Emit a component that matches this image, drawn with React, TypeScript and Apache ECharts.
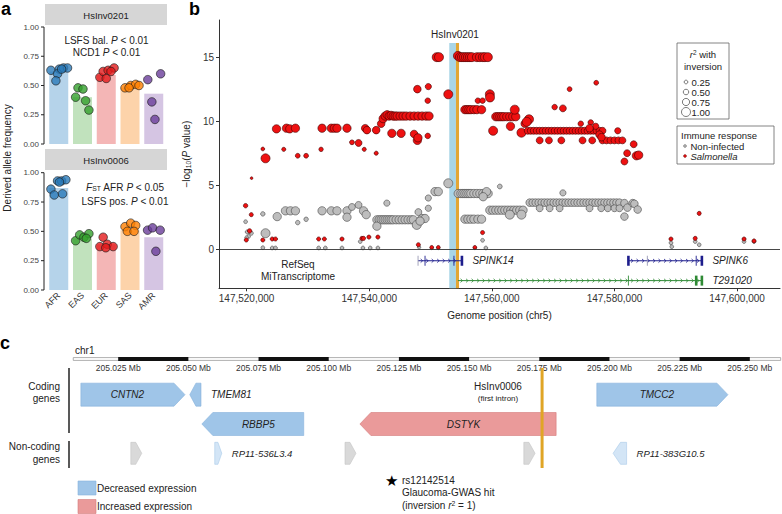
import React, { useEffect, useRef } from 'react';
import * as echarts from 'echarts';

const FONT = '"Liberation Sans", Arial, Helvetica, sans-serif';

// ---------------- Panel a ----------------
const populations = ['AFR', 'EAS', 'EUR', 'SAS', 'AMR'];
const popIndex = [0, 1, 2, 3, 4];
const popColors = ['#2a7ab9', '#33a02c', '#e31a1c', '#ff7f00', '#6a3d9a'];
const popBarColors = ['#b5d3ea', '#c1e2bd', '#f4b6b6', '#fdd3aa', '#d5c5e3'];
const alleleTicks = [0, 0.25, 0.5, 0.75, 1];
const hs0201Means = [0.62, 0.40, 0.59, 0.48, 0.43];
const hs0006Means = [0.87, 0.44, 0.39, 0.51, 0.45];
// [population index, horizontal jitter (category units), derived allele frequency]
const hs0201Points = [
  [0, -0.33, 0.63], [0, 0.02, 0.64], [0, 0.2, 0.65], [0, 0.37, 0.65], [0, -0.05, 0.60], [0, -0.12, 0.54], [0, 0.12, 0.64],
  [1, -0.19, 0.48], [1, 0.02, 0.47], [1, -0.29, 0.40], [1, 0.13, 0.37], [1, 0.27, 0.29],
  [2, -0.27, 0.57], [2, -0.13, 0.62], [2, 0.08, 0.63], [2, 0.33, 0.65], [2, 0.0, 0.56], [2, 0.2, 0.62],
  [3, -0.21, 0.48], [3, 0.03, 0.50], [3, 0.24, 0.51], [3, 0.38, 0.50], [3, -0.04, 0.48],
  [4, -0.25, 0.55], [4, 0.29, 0.60], [4, -0.08, 0.36], [4, 0.05, 0.21],
];
const hs0006Points = [
  [0, -0.33, 0.86], [0, -0.19, 0.81], [0, 0.16, 0.82], [0, -0.05, 0.93], [0, 0.12, 0.93], [0, 0.3, 0.94], [0, 0.03, 0.92],
  [1, -0.29, 0.42], [1, -0.12, 0.47], [1, 0.06, 0.45], [1, 0.27, 0.48], [1, 0.16, 0.44],
  [2, -0.13, 0.45], [2, -0.27, 0.37], [2, 0.04, 0.39], [2, 0.29, 0.37], [2, -0.02, 0.36],
  [3, -0.21, 0.54], [3, 0.03, 0.57], [3, 0.24, 0.55], [3, -0.11, 0.50], [3, 0.17, 0.50],
  [4, -0.26, 0.51], [4, -0.05, 0.53], [4, 0.27, 0.51], [4, 0.09, 0.33],
];

// ---------------- Panel b ----------------
const genomeTicks = [147520000, 147540000, 147560000, 147580000, 147600000];
const logpTicks = [0, 5, 10, 15];
const genomeMin = 147515500;
const genomeMax = 147607000;
const logpMin = -3.05;
const logpMax = 17.9;
// [position, -log10 P, r2 with inversion]
const salmonellaPts = [
  [147522650, 7.83, 0.25], [147523089, 7.1, 1.0], [147524878, 9.4, 0.9], [147526065, 7.8, 0.3],
  [147526504, 9.45, 0.9], [147527040, 9.4, 0.9], [147527967, 9.45, 0.9], [147528341, 7.3, 0.4],
  [147529707, 7.3, 0.4], [147532146, 7.8, 0.35], [147532309, 9.45, 0.9], [147533821, 9.45, 0.9],
  [147534309, 9.45, 0.9], [147534748, 9.45, 0.9], [147536374, 9.45, 0.9], [147537187, 8.35, 0.4],
  [147538260, 8.3, 0.7], [147539187, 7.8, 0.3], [147539349, 9.45, 0.8], [147539626, 9.3, 0.8],
  [147541138, 9.3, 0.8], [147541138, 7.5, 0.3], [147541951, 9.8, 0.8],
  [147542276, 10.2, 0.9], [147542601, 10.4, 0.9], [147542927, 10.5, 0.9], [147543252, 10.4, 0.9],
  [147543577, 10.45, 0.9], [147543902, 10.4, 0.9], [147544227, 10.4, 0.9], [147544553, 10.4, 0.9],
  [147545040, 10.4, 0.9], [147545528, 10.4, 0.9], [147546016, 10.4, 0.9], [147546666, 10.4, 0.9],
  [147547317, 10.4, 0.9], [147547967, 10.4, 0.9], [147548618, 10.4, 0.9], [147549268, 10.4, 0.9],
  [147549756, 10.4, 0.9],
  [147543691, 9.05, 0.9], [147545203, 9.05, 0.9], [147547317, 9.0, 0.8], [147547853, 8.5, 0.9],
  [147547950, 8.7, 0.9], [147547853, 12.5, 0.8], [147549642, 12.7, 0.6], [147549544, 11.6, 0.5],
  [147549544, 8.85, 0.5], [147551008, 15.0, 1.0], [147551382, 15.0, 1.0], [147552894, 12.1, 1.0],
  [147554471, 15.1, 1.0], [147554796, 15.0, 1.0], [147555122, 15.0, 1.0], [147555447, 15.0, 1.0],
  [147555772, 15.0, 1.0], [147556097, 15.0, 1.0], [147556422, 15.0, 1.0], [147556748, 15.0, 1.0],
  [147557561, 15.0, 1.0], [147558048, 15.0, 1.0], [147558536, 15.0, 1.0], [147558861, 15.0, 1.0],
  [147559349, 15.0, 1.0],
  [147555609, 10.9, 0.9], [147555935, 10.9, 0.9], [147556260, 10.9, 0.9], [147556585, 10.9, 0.9],
  [147557073, 10.9, 0.9], [147557561, 10.9, 0.9], [147558325, 10.9, 0.9],
  [147557723, 11.6, 0.5], [147558487, 11.6, 0.5], [147559674, 12.1, 1.0], [147559700, 11.85, 1.0],
  [147560211, 9.25, 1.0],
  [147560650, 10.35, 0.9], [147560975, 10.35, 0.9], [147561300, 10.35, 0.9], [147561626, 10.35, 0.9],
  [147561951, 10.35, 0.9], [147562439, 10.35, 0.9], [147562926, 10.35, 0.9], [147563414, 10.35, 0.9],
  [147563902, 10.35, 0.9],
  [147563739, 10.9, 1.0], [147563040, 9.6, 0.9], [147564829, 9.1, 1.0], [147565365, 9.8, 0.8],
  [147566066, 10.15, 1.0], [147565691, 9.95, 1.0],
  [147565853, 9.25, 0.7], [147566341, 9.25, 0.7], [147566829, 9.25, 0.7], [147567317, 9.25, 0.7],
  [147567804, 9.25, 0.7], [147568292, 9.25, 0.7], [147568780, 9.25, 0.7], [147569268, 9.25, 0.7],
  [147569756, 9.25, 0.7], [147570243, 9.25, 0.7], [147570731, 9.25, 0.7], [147571219, 9.25, 0.7],
  [147571707, 9.25, 0.7], [147572195, 9.25, 0.7], [147572682, 9.25, 0.7], [147573170, 9.25, 0.7],
  [147573658, 9.25, 0.7], [147574146, 9.25, 0.7], [147574634, 9.25, 0.7], [147575121, 9.25, 0.7],
  [147575609, 9.25, 0.7], [147576097, 9.25, 0.7], [147576585, 9.25, 0.7], [147577073, 9.25, 0.7],
  [147577560, 9.25, 0.7], [147578048, 9.25, 0.7],
  [147567804, 8.5, 0.7], [147569316, 8.5, 0.7], [147571333, 8.5, 0.7], [147574796, 8.5, 0.7],
  [147576373, 8.5, 0.7], [147578048, 8.5, 0.7], [147578699, 8.5, 0.7], [147579349, 8.5, 0.7],
  [147580000, 8.5, 0.7], [147580650, 8.5, 0.7], [147581300, 8.5, 0.7],
  [147570243, 11.1, 0.5], [147571592, 11.0, 0.7], [147572682, 12.5, 0.4], [147577024, 13.0, 0.4],
  [147574503, 9.8, 0.5], [147576129, 9.9, 0.5], [147576942, 9.6, 0.6], [147575934, 9.45, 0.8],
  [147577560, 8.95, 0.8], [147577886, 8.75, 0.8], [147580536, 9.25, 0.6], [147583138, 8.2, 0.7],
  [147582064, 7.5, 0.7], [147583577, 7.3, 0.9], [147583951, 7.35, 0.9], [147581625, 6.85, 0.7],
  [147519837, 3.4, 0.35], [147519951, 0.72, 0.3], [147520764, 2.7, 0.3], [147520813, 5.55, 0.1],
  [147520488, 1.43, 0.35], [147522650, 0.72, 0.3], [147524179, 0.8, 0.3], [147524715, 0.8, 0.3],
  [147531756, 0.8, 0.3], [147532683, 0.8, 0.3], [147535561, 0.8, 0.3], [147538813, 0.85, 0.3],
  [147539073, 0.85, 0.3], [147539951, 0.95, 0.3], [147541415, 0.95, 0.3], [147548016, 0.35, 0.3],
  [147550195, 0.15, 0.25], [147551268, 0.15, 0.25], [147557235, 0.15, 0.25], [147558487, 1.3, 0.3],
  [147593820, 2.8, 0.3], [147589219, 0.8, 0.3], [147593170, 0.85, 0.3], [147601137, 0.8, 0.3],
  [147602763, 0.65, 0.3],
];
const nonInfectedPts = [
  [147519837, 2.15, 0.25], [147520114, 1.35, 0.3], [147520325, 1.0, 0.25], [147520764, 1.25, 0.3],
  [147520000, 0.9, 0.25], [147523089, 1.25, 1.0], [147522650, 2.76, 0.35], [147522650, 0.12, 0.25],
  [147524179, 0.1, 0.25], [147524715, 0.1, 0.25], [147524992, 2.55, 0.9], [147526341, 3.0, 0.9],
  [147527154, 3.0, 0.9], [147527967, 3.0, 0.9], [147528341, 2.08, 0.35], [147529707, 2.34, 0.35],
  [147531756, 0.1, 0.25], [147532845, 0.1, 0.25], [147532309, 3.0, 0.9], [147533821, 3.0, 0.9],
  [147534748, 3.0, 0.9], [147535561, 0.1, 0.25], [147536374, 3.0, 0.9], [147536374, 2.5, 0.9],
  [147537187, 3.3, 0.7], [147538260, 3.46, 0.7], [147538536, 0.6, 0.25], [147539073, 3.0, 0.9],
  [147539512, 2.7, 0.9], [147538976, 0.1, 0.25], [147540162, 0.1, 0.25], [147541415, 0.1, 0.25],
  [147541252, 2.3, 0.9], [147541626, 2.3, 0.9], [147541951, 2.3, 0.9], [147542276, 2.3, 0.9],
  [147542601, 2.3, 0.9], [147542927, 2.3, 0.9], [147543252, 2.3, 0.9], [147543577, 2.3, 0.9],
  [147543902, 2.3, 0.9], [147544390, 2.3, 0.9], [147544878, 2.3, 0.9], [147545366, 2.3, 0.9],
  [147545853, 2.3, 0.9], [147546341, 2.3, 0.9], [147546829, 2.3, 0.9], [147547203, 2.3, 0.9],
  [147548600, 2.4, 0.9], [147549100, 2.4, 0.9],
  [147541252, 1.8, 0.9], [147542878, 3.6, 0.6], [147548016, 2.9, 0.7], [147547756, 1.9, 1.0],
  [147548292, 2.2, 0.9], [147549642, 4.0, 0.6], [147549642, 3.2, 0.6], [147550731, 4.5, 0.9],
  [147551268, 4.5, 0.9], [147552894, 5.15, 1.0],
  [147554520, 4.35, 0.9], [147554959, 4.35, 0.9], [147555284, 4.35, 0.9], [147555609, 4.35, 0.9],
  [147555935, 4.35, 0.9], [147556260, 4.35, 0.9], [147556585, 4.35, 0.9], [147557073, 4.35, 0.9],
  [147557561, 4.35, 0.9], [147558048, 4.35, 0.9], [147558536, 4.35, 0.9], [147559024, 4.35, 0.9],
  [147559398, 4.35, 0.9],
  [147555609, 2.35, 0.9], [147556097, 2.35, 0.9], [147556585, 2.35, 0.9], [147557073, 2.35, 0.9],
  [147557723, 2.35, 0.9], [147558325, 2.35, 0.9],
  [147558487, 0.7, 0.25], [147559024, 0.1, 0.25], [147561300, 4.9, 0.4], [147559138, 4.5, 0.9],
  [147558585, 4.1, 0.9],
  [147559674, 3.05, 0.9], [147560162, 3.05, 0.9], [147560650, 3.05, 0.9], [147561138, 3.05, 0.9],
  [147561626, 3.05, 0.9], [147562113, 3.05, 0.9], [147562601, 3.05, 0.9], [147563089, 3.05, 0.9],
  [147563577, 3.05, 0.9], [147564065, 3.05, 0.9], [147564552, 3.05, 0.9], [147565089, 3.05, 0.9],
  [147562926, 2.7, 1.0], [147564829, 2.7, 1.0], [147571592, 4.4, 0.6],
  [147566178, 3.64, 0.8], [147566666, 3.64, 0.8], [147567154, 3.64, 0.8], [147567642, 3.64, 0.8],
  [147568130, 3.64, 0.8], [147568617, 3.64, 0.8], [147569105, 3.64, 0.8], [147569593, 3.64, 0.8],
  [147570081, 3.64, 0.8], [147570569, 3.64, 0.8], [147571056, 3.64, 0.8], [147571544, 3.64, 0.8],
  [147572032, 3.64, 0.8], [147572520, 3.64, 0.8], [147573008, 3.64, 0.8], [147573495, 3.64, 0.8],
  [147573983, 3.64, 0.8], [147574471, 3.64, 0.8], [147574959, 3.64, 0.8], [147575447, 3.64, 0.8],
  [147575934, 3.64, 0.8], [147576422, 3.64, 0.8], [147576910, 3.64, 0.8], [147577398, 3.64, 0.8],
  [147577886, 3.64, 0.8], [147578373, 3.64, 0.8], [147578861, 3.64, 0.8], [147579349, 3.64, 0.8],
  [147579837, 3.64, 0.8], [147580325, 3.64, 0.8], [147580812, 3.64, 0.8],
  [147567804, 3.2, 0.7], [147569430, 3.2, 0.7], [147571056, 3.2, 0.7], [147575934, 3.2, 0.7],
  [147577837, 3.2, 0.7], [147578911, 3.2, 0.7], [147580000, 3.2, 0.7], [147580812, 3.2, 0.7],
  [147581625, 3.6, 0.8], [147582113, 3.25, 0.8], [147582975, 3.6, 0.8], [147583251, 3.55, 0.8],
  [147583788, 3.1, 0.8], [147581625, 2.55, 0.8],
  [147589219, 0.5, 0.25], [147589349, 0.2, 0.25], [147593170, 0.6, 0.25], [147593820, 0.35, 0.25],
  [147601137, 0.6, 0.25], [147602763, 0.6, 0.25], [147548130, 0.15, 0.2], [147550195, 0.1, 0.2],
  [147551268, 0.1, 0.2], [147557235, 0.1, 0.2],
];
const r2LegendValues = [0.25, 0.5, 0.75, 1.0];
// inversion HsInv0201: [start, end, kind] kind 0 = inverted region, 1 = breakpoint
const inversionMarks = [
  [147553057, 147554146, 0],
  [147554146, 147554650, 1],
];
const inversionTop = 16.1;
const trackNames = ['RefSeq', 'MiTranscriptome'];
const trackGenes = ['SPINK14', 'SPINK6', 'T291020'];
const trackGeneStart = [147547967, 147582276, 147554471];
const trackGeneEnd = [147555122, 147594259, 147594259];
const trackGeneSource = [0, 0, 1];
const exonGene = [0, 0, 0, 0, 1, 1, 1, 1, 2, 2, 2];
const exonPos = [147547967, 147549105, 147553821, 147555122, 147582276, 147585365, 147593333, 147594259, 147582276, 147593333, 147594259];
const exonKind = [2, 0, 0, 1, 1, 2, 0, 1, 0, 1, 1]; // 0 thin, 1 thick, 2 thin grey

// ---------------- Panel c ----------------
const mbTicks = [205.025, 205.05, 205.075, 205.1, 205.125, 205.15, 205.175, 205.2, 205.225, 205.25];
const ideogramRegion = [205.009, 205.261];
const ideogramDarkStarts = [205.025, 205.075, 205.125, 205.175, 205.225];
const cGenes = ['CNTN2', 'TMEM81', 'RBBP5', 'DSTYK', 'TMCC2', '', 'RP11-536L3.4', '', '', 'RP11-383G10.5'];
const cStart = [205.0117, 205.0505, 205.0548, 205.1111, 205.1955, 205.0295, 205.0594, 205.1058, 205.1695, 205.2013];
const cEnd = [205.0488, 205.0545, 205.0911, 205.1810, 205.2422, 205.0334, 205.0619, 205.1097, 205.1735, 205.2061];
const cStrand = [1, -1, -1, -1, 1, 1, 1, 1, 1, -1];
const cTrack = [0, 0, 1, 1, 0, 2, 2, 2, 2, 2];
const cEffect = ['down', 'down', 'down', 'up', 'down', 'none', 'weak', 'none', 'none', 'weak'];
const hsInv0006Pos = 205.176;

const effectStyle: Record<string, [string, string]> = {
  down: ['#9fc5e8', '#86b2db'],
  up: ['#ea9a9a', '#d47a7a'],
  none: ['#d9d9d9', '#c4c4c4'],
  weak: ['#d3e5f6', '#a9cbea'],
};

const sizeOf = (r2: number) => 2 + 7 * r2;
const fmtComma = (v: number) => String(Math.round(v)).replace(/\B(?=(\d{3})+(?!\d))/g, ',');

const rt = (size: number, extra: any = {}) => ({ fontSize: size, fontFamily: FONT, fill: '#222', color: '#222', ...extra });

function txt(x: number, y: number, text: string, o: any = {}) {
  const size = o.size || 10;
  return {
    type: 'text',
    x,
    y,
    z: 30,
    rotation: o.rotation || 0,
    silent: true,
    style: {
      text,
      fill: o.fill || '#222',
      fontSize: size,
      fontFamily: FONT,
      fontStyle: o.italic ? 'italic' : 'normal',
      fontWeight: o.bold ? 'bold' : 'normal',
      align: o.align || 'left',
      textAlign: o.align || 'left',
      verticalAlign: o.valign || 'middle',
      textVerticalAlign: o.valign || 'middle',
      rich: o.rich,
    },
  };
}

function buildOption(): any {
  const richStd = (size: number) => ({
    n: rt(size),
    i: rt(size, { fontStyle: 'italic' }),
    s: rt(size * 0.68, { verticalAlign: 'bottom' }),
    p: rt(size * 0.68, { verticalAlign: 'top' }),
  });

  const graphic: any[] = [
    // panel letters
    txt(1, 0, 'a', { size: 18, bold: true, fill: '#000', valign: 'top' }),
    txt(189, 0, 'b', { size: 18, bold: true, fill: '#000', valign: 'top' }),
    txt(0, 334, 'c', { size: 18, bold: true, fill: '#000', valign: 'top' }),
    // panel a strips
    { type: 'rect', shape: { x: 45, y: 4, width: 122, height: 21 }, style: { fill: '#d6d6d6' }, z: 1, silent: true },
    { type: 'rect', shape: { x: 45, y: 149, width: 122, height: 21 }, style: { fill: '#d6d6d6' }, z: 1, silent: true },
    txt(106, 15, 'HsInv0201', { size: 9.5, align: 'center' }),
    txt(106, 160, 'HsInv0006', { size: 9.5, align: 'center' }),
    txt(106.5, 40, '{n|LSFS bal. }{i|P}{n| < 0.01}', { align: 'center', rich: richStd(10) }),
    txt(106.5, 52, '{n|NCD1 }{i|P}{n| < 0.01}', { align: 'center', rich: richStd(10) }),
    txt(125, 187, '{i|F}{s|ST}{n| AFR }{i|P}{n| < 0.05}', { align: 'center', rich: richStd(10) }),
    txt(125, 201, '{n|LSFS pos. }{i|P}{n| < 0.01}', { align: 'center', rich: richStd(10) }),
    txt(7, 158, 'Derived allele frequency', { align: 'center', rotation: Math.PI / 2 }),
    // panel b annotations
    txt(455, 34, 'HsInv0201', { align: 'center' }),
    txt(298, 264, trackNames[0], { align: 'center' }),
    txt(298, 276, trackNames[1], { align: 'center' }),
    // r2 legend
    { type: 'rect', shape: { x: 677, y: 43, width: 52, height: 76 }, style: { fill: '#fff', stroke: '#666', lineWidth: 0.8 }, z: 20, silent: true },
    txt(703, 54, '{i|r}{p|2}{n| with}', { align: 'center', rich: richStd(9.5) }),
    txt(703, 66, 'inversion', { align: 'center', size: 9.5 }),
    // immune legend
    { type: 'rect', shape: { x: 677, y: 126, width: 97, height: 38 }, style: { fill: '#fff', stroke: '#666', lineWidth: 0.8 }, z: 20, silent: true },
    txt(681, 135, 'Immune response', { size: 9.5 }),
    { type: 'circle', shape: { cx: 685, cy: 146, r: 1.5 }, style: { fill: '#aaa', stroke: '#555', lineWidth: 0.4 }, z: 31, silent: true },
    txt(690.5, 146, 'Non-infected', { size: 9.5 }),
    { type: 'circle', shape: { cx: 685, cy: 156, r: 1.5 }, style: { fill: '#dd1111', stroke: '#550000', lineWidth: 0.4 }, z: 31, silent: true },
    txt(690.5, 156, 'Salmonella', { size: 9.5, italic: true }),
    // panel c labels
    txt(75, 350, 'chr1', { size: 10 }),
    txt(60, 386, 'Coding', { align: 'right' }),
    txt(60, 398.5, 'genes', { align: 'right' }),
    txt(60, 446.7, 'Non-coding', { align: 'right' }),
    txt(60, 459.3, 'genes', { align: 'right' }),
    { type: 'line', shape: { x1: 69, y1: 368, x2: 69, y2: 433 }, style: { stroke: '#222', lineWidth: 1.5 }, z: 20, silent: true },
    { type: 'line', shape: { x1: 69, y1: 441, x2: 69, y2: 468 }, style: { stroke: '#222', lineWidth: 1.5 }, z: 20, silent: true },
    txt(498, 386, 'HsInv0006', { align: 'center' }),
    txt(498, 398, '(first intron)', { align: 'center', size: 8 }),
    { type: 'rect', shape: { x: 78, y: 481, width: 18, height: 14 }, style: { fill: effectStyle.down[0], stroke: effectStyle.down[1], lineWidth: 0.6 }, z: 20, silent: true },
    txt(97, 488, 'Decreased expression'),
    { type: 'rect', shape: { x: 78, y: 499.5, width: 18, height: 14 }, style: { fill: effectStyle.up[0], stroke: effectStyle.up[1], lineWidth: 0.6 }, z: 20, silent: true },
    txt(97, 506.5, 'Increased expression'),
    txt(391, 480, '★', { align: 'center', size: 15, fill: '#000' }),
    txt(402, 480, 'rs12142514'),
    txt(402, 492, 'Glaucoma-GWAS hit'),
    txt(402, 505, '{n|(inversion }{i|r}{p|2}{n| = 1)}', { rich: richStd(10) }),
  ];
  r2LegendValues.forEach((r2, k) => {
    const cy = 82 + k * 10;
    graphic.push({ type: 'circle', shape: { cx: 686, cy, r: sizeOf(r2) / 2 }, style: { fill: '#fff', stroke: '#444', lineWidth: 0.7 }, z: 31, silent: true });
    graphic.push(txt(691.5, cy, r2.toFixed(2), { size: 9.5 }));
  });

  const axisText = { fontSize: 10, color: '#333', fontFamily: FONT };

  const panelAAxisY = (grid: number) => ({
    type: 'value', gridIndex: grid, min: 0, max: 1, interval: 0.25, show: false,
  });
  const panelAAxisX = (grid: number, labels: boolean) => ({
    type: 'value', gridIndex: grid, min: -0.6, max: 4.6,
    axisLine: { show: false }, axisTick: { show: false }, splitLine: { show: false },
    axisLabel: {
      show: labels, fontSize: 9, color: '#333', fontFamily: FONT, rotate: 45, margin: 4,
      customValues: popIndex, showMinLabel: true, showMaxLabel: true,
      formatter: (v: number) => populations[Math.round(v)] ?? '',
    },
  });

  const barSeries = (xi: number, yi: number, means: number[]) => ({
    type: 'bar', xAxisIndex: xi, yAxisIndex: yi, barWidth: 19, silent: true, z: 2,
    data: means.map((v, i) => ({ value: [popIndex[i], v], itemStyle: { color: popBarColors[i] } })),
  });
  const dotSeries = (xi: number, yi: number, pts: number[][]) => ({
    type: 'scatter', xAxisIndex: xi, yAxisIndex: yi, symbolSize: 8.5, silent: true, z: 3,
    data: pts.map((p) => ({ value: [p[0] + p[1], p[2]], itemStyle: { color: popColors[p[0]], borderColor: '#1a1a1a', borderWidth: 0.8 } })),
  });

  return {
    animation: false,
    backgroundColor: '#fff',
    textStyle: { fontFamily: FONT },
    grid: [
      { left: 44.5, top: 27, width: 123.5, height: 117 },
      { left: 44.5, top: 172.7, width: 123.5, height: 117.3 },
      { left: 219, top: 20, width: 561, height: 268.3 },
      { left: 48, top: 380, width: 732.7, height: 88 },
      { left: 48, top: 357, width: 732.7, height: 4 },
    ],
    xAxis: [
      panelAAxisX(0, false),
      panelAAxisX(1, true),
      {
        type: 'value', gridIndex: 2, min: genomeMin, max: genomeMax,
        axisLine: { show: true, onZero: false, lineStyle: { color: '#333', width: 1 } },
        axisTick: { show: true, length: 3, customValues: genomeTicks, lineStyle: { color: '#333' } },
        axisLabel: {
          ...axisText, margin: 5, customValues: genomeTicks, showMinLabel: true, showMaxLabel: true,
          formatter: (v: number) => (genomeTicks.includes(Math.round(v)) ? fmtComma(v) : ''),
        },
        splitLine: { show: false },
        name: 'Genome position (chr5)', nameLocation: 'middle', nameGap: 22,
        nameTextStyle: { fontSize: 10, color: '#222', fontFamily: FONT },
      },
      { type: 'value', gridIndex: 3, min: 205.0, max: 205.261, show: false },
      {
        type: 'value', gridIndex: 4, min: 205.0, max: 205.261, interval: 0.025,
        axisLine: { show: false }, axisTick: { show: false }, splitLine: { show: false },
        axisLabel: {
          fontSize: 8.5, color: '#333', fontFamily: FONT, margin: 2, customValues: mbTicks,
          showMinLabel: true, showMaxLabel: true,
          formatter: (v: number) => (v > 205.01 && v < 205.26 ? v.toFixed(3) + ' Mb' : ''),
        },
      },
    ],
    yAxis: [
      panelAAxisY(0),
      panelAAxisY(1),
      {
        type: 'value', gridIndex: 2, min: logpMin, max: logpMax,
        axisLine: { show: true, onZero: false, lineStyle: { color: '#333', width: 1 } },
        axisTick: { show: true, length: 3, customValues: logpTicks, lineStyle: { color: '#333' } },
        axisLabel: {
          ...axisText, margin: 5, customValues: logpTicks, showMinLabel: true, showMaxLabel: true,
          formatter: (v: number) => (logpTicks.includes(v) ? String(v) : ''),
        },
        splitLine: { show: false },
        name: '{n|−log}{s|10}{n|(}{i|P}{n| value)}', nameLocation: 'middle', nameGap: 22, nameRotate: 90,
        nameTextStyle: { fontSize: 10, color: '#222', fontFamily: FONT, rich: richStd(10) },
      },
      { type: 'category', gridIndex: 3, data: ['coding-1', 'coding-2', 'non-coding'], inverse: true, show: false },
      { type: 'value', gridIndex: 4, min: 0, max: 1, show: false },
    ],
    series: [
      barSeries(0, 0, hs0201Means),
      dotSeries(0, 0, hs0201Points),
      barSeries(1, 1, hs0006Means),
      dotSeries(1, 1, hs0006Points),
      // inversion band
      {
        type: 'custom', xAxisIndex: 2, yAxisIndex: 2, z: 1, silent: true,
        data: inversionMarks, encode: { x: [0, 1] },
        renderItem: (params: any, api: any) => {
          const p0 = api.coord([api.value(0), inversionTop]);
          const p1 = api.coord([api.value(1), logpMin]);
          return {
            type: 'rect',
            shape: { x: p0[0], y: p0[1], width: p1[0] - p0[0], height: p1[1] - p0[1] },
            style: { fill: api.value(2) === 0 ? '#a8d5e7' : '#e3a634' },
          };
        },
      },
      {
        type: 'scatter', xAxisIndex: 2, yAxisIndex: 2, z: 3, silent: true,
        data: nonInfectedPts,
        symbolSize: (v: number[]) => sizeOf(v[2]),
        itemStyle: { color: '#bdbdbd', borderColor: '#454545', borderWidth: 0.6, opacity: 1 },
        markLine: {
          silent: true, symbol: 'none', label: { show: false },
          lineStyle: { color: '#333', width: 0.9, type: 'solid' },
          data: [{ yAxis: 0 }],
        },
      },
      {
        type: 'scatter', xAxisIndex: 2, yAxisIndex: 2, z: 4, silent: true,
        data: salmonellaPts,
        symbolSize: (v: number[]) => sizeOf(v[2]),
        itemStyle: { color: '#ee1111', borderColor: '#400000', borderWidth: 0.6, opacity: 1 },
      },
      // gene tracks (panel b)
      {
        type: 'custom', xAxisIndex: 2, yAxisIndex: 2, z: 5, silent: true,
        data: trackGenes.map((_, i) => [trackGeneStart[i], trackGeneEnd[i], i]),
        encode: { x: [0, 1] },
        renderItem: (params: any, api: any) => {
          const gi = api.value(2);
          const src = trackGeneSource[gi];
          const rowY = src === 0 ? -0.9 : -2.45;
          const a = api.coord([api.value(0), rowY]);
          const b = api.coord([api.value(1), rowY]);
          const col = src === 0 ? '#1d1d8c' : '#2f8a35';
          const y = a[1];
          const children: any[] = [
            { type: 'line', shape: { x1: a[0], y1: y, x2: b[0], y2: y }, style: { stroke: col, lineWidth: 1 } },
          ];
          for (let x = a[0] + 4; x < b[0] - 2; x += 5.5) {
            children.push({ type: 'polyline', shape: { points: [[x - 1.4, y - 1.8], [x + 0.6, y], [x - 1.4, y + 1.8]] }, style: { stroke: col, fill: 'none', lineWidth: 0.8 } });
          }
          exonPos.forEach((p, k) => {
            if (exonGene[k] !== gi) return;
            const ex = api.coord([p, rowY])[0];
            const kind = exonKind[k];
            children.push({
              type: 'line',
              shape: { x1: ex, y1: y - 5, x2: ex, y2: y + 5 },
              style: { stroke: kind === 2 ? '#9a9ab5' : col, lineWidth: kind === 1 ? 2.6 : 0.9 },
            });
          });
          children.push({
            type: 'text', x: b[0] + 10.5, y,
            style: { text: trackGenes[gi], fill: '#222', fontSize: 10, fontFamily: FONT, fontStyle: 'italic', align: 'left', verticalAlign: 'middle' },
          });
          return { type: 'group', children };
        },
      },
      // ideogram (panel c)
      {
        type: 'custom', xAxisIndex: 4, yAxisIndex: 4, z: 5, silent: true,
        data: [[ideogramRegion[0], ideogramRegion[1], 0], ...ideogramDarkStarts.map((s) => [s, s + 0.025, 1])],
        encode: { x: [0, 1] },
        renderItem: (params: any, api: any) => {
          const p0 = api.coord([api.value(0), 1]);
          const p1 = api.coord([api.value(1), 0]);
          if (api.value(2) === 0) {
            return { type: 'rect', shape: { x: p0[0], y: p0[1] + 0.6, width: p1[0] - p0[0], height: p1[1] - p0[1] - 1.2 }, style: { fill: '#fff', stroke: '#9a9a9a', lineWidth: 0.8 } };
          }
          return { type: 'rect', shape: { x: p0[0], y: p0[1], width: p1[0] - p0[0], height: p1[1] - p0[1] }, style: { fill: '#111' } };
        },
      },
      // genes (panel c)
      {
        type: 'custom', xAxisIndex: 3, yAxisIndex: 3, z: 5, silent: true,
        data: cGenes.map((_, i) => [cStart[i], cEnd[i], cTrack[i], i]),
        encode: { x: [0, 1], y: 2 },
        renderItem: (params: any, api: any) => {
          const i = api.value(3);
          const s = api.coord([api.value(0), api.value(2)]);
          const e = api.coord([api.value(1), api.value(2)]);
          const cy = s[1];
          const h = cTrack[i] === 2 ? 22 : 23;
          const y0 = cy - h / 2;
          const y1 = cy + h / 2;
          const x0 = s[0];
          const x1 = e[0];
          const w = x1 - x0;
          const tip = Math.min(11, w * 0.55);
          const pts = cStrand[i] > 0
            ? [[x0, y0], [x1 - tip, y0], [x1, cy], [x1 - tip, y1], [x0, y1]]
            : [[x0, cy], [x0 + tip, y0], [x1, y0], [x1, y1], [x0 + tip, y1]];
          const st = effectStyle[cEffect[i]];
          const children: any[] = [{ type: 'polygon', shape: { points: pts }, style: { fill: st[0], stroke: st[1], lineWidth: 0.6 } }];
          if (cGenes[i]) {
            if (w > 40) {
              const cx = cStrand[i] > 0 ? (x0 + x1 - tip) / 2 : (x0 + tip + x1) / 2;
              children.push({ type: 'text', x: cx, y: cy, style: { text: cGenes[i], fill: '#222', fontSize: 10, fontFamily: FONT, fontStyle: 'italic', align: 'center', verticalAlign: 'middle' } });
            } else {
              children.push({ type: 'text', x: x1 + 10, y: cy, style: { text: cGenes[i], fill: '#222', fontSize: cTrack[i] === 2 ? 9.5 : 10, fontFamily: FONT, fontStyle: 'italic', align: 'left', verticalAlign: 'middle' } });
            }
          }
          return { type: 'group', children };
        },
      },
      // HsInv0006 position (panel c)
      {
        type: 'custom', xAxisIndex: 3, yAxisIndex: 3, z: 8, silent: true,
        data: [[hsInv0006Pos, 0]],
        encode: { x: 0 },
        renderItem: (params: any, api: any) => {
          const x = api.coord([api.value(0), 0])[0];
          const cs = params.coordSys;
          return { type: 'line', shape: { x1: x, y1: cs.y - 12, x2: x, y2: cs.y + cs.height }, style: { stroke: '#e0a526', lineWidth: 3 } };
        },
      },
    ],
    graphic,
  };
}

// Panel a y axes, positioned through the chart's own scales (convertToPixel)
function panelAAxisGraphics(chart: any): any[] {
  const out: any[] = [];
  [0, 1].forEach((g) => {
    try {
      const x0 = chart.convertToPixel({ xAxisIndex: g }, -0.6) as number;
      const yTop = chart.convertToPixel({ yAxisIndex: g }, 1) as number;
      const yBot = chart.convertToPixel({ yAxisIndex: g }, 0) as number;
      if (![x0, yTop, yBot].every((n) => Number.isFinite(n))) return;
      const ax = x0 - 0.5;
      out.push({ type: 'line', shape: { x1: ax, y1: yTop, x2: ax, y2: yBot }, style: { stroke: '#222', lineWidth: 1 }, z: 30, silent: true });
      alleleTicks.forEach((v) => {
        const y = chart.convertToPixel({ yAxisIndex: g }, v) as number;
        out.push({ type: 'line', shape: { x1: ax - 3, y1: y, x2: ax, y2: y }, style: { stroke: '#222', lineWidth: 1 }, z: 30, silent: true });
        out.push(txt(ax - 5, y, v.toFixed(2), { size: 8, align: 'right', fill: '#444' }));
      });
    } catch (e) {
      /* ignore */
    }
  });
  return out;
}

export default function App() {
  const ref = useRef<HTMLDivElement>(null);
  useEffect(() => {
    if (!ref.current) return;
    const chart = echarts.init(ref.current, null, { renderer: 'svg' });
    const option = buildOption();
    chart.setOption(option);
    const extra = panelAAxisGraphics(chart);
    if (extra.length) {
      option.graphic = [...option.graphic, ...extra];
      chart.setOption(option, true);
    }
    return () => chart.dispose();
  }, []);
  return (
    <div
      ref={ref}
      style={{ position: 'fixed', left: 0, top: 0, width: 782, height: 514, background: '#fff' }}
    />
  );
}
